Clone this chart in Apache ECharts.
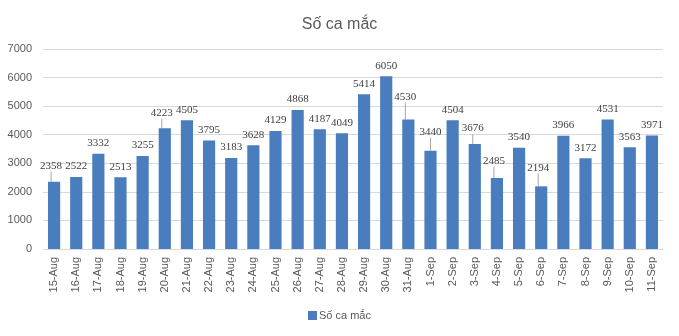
<!DOCTYPE html>
<html>
<head>
<meta charset="utf-8">
<script src="https://cdn.jsdelivr.net/npm/echarts@6/dist/echarts.min.js"></script>
<style>
  html, body { margin: 0; padding: 0; background: #fff; }
  #chart { width: 679px; height: 336px; }
</style>
</head>
<body>
<div id="chart"></div>
<script>
// Daily case counts, 15 Aug – 11 Sep
const categories = [
  '15-Aug', '16-Aug', '17-Aug', '18-Aug', '19-Aug', '20-Aug', '21-Aug',
  '22-Aug', '23-Aug', '24-Aug', '25-Aug', '26-Aug', '27-Aug', '28-Aug',
  '29-Aug', '30-Aug', '31-Aug', '1-Sep', '2-Sep', '3-Sep', '4-Sep',
  '5-Sep', '6-Sep', '7-Sep', '8-Sep', '9-Sep', '10-Sep', '11-Sep'
];
const cases = [
  2358, 2522, 3332, 2513, 3255, 4223, 4505,
  3795, 3183, 3628, 4129, 4868, 4187, 4049,
  5414, 6050, 4530, 3440, 4504, 3676, 2485,
  3540, 2194, 3966, 3172, 4531, 3563, 3971
];
const seriesName = 'Số ca mắc';
const yTicks = [0, 1000, 2000, 3000, 4000, 5000, 6000, 7000];

// Labels nudged upward (with a leader line) to keep them clear of neighbours
const raisedLabels = {
  '15-Aug': [-3, 5], '20-Aug': [-3, 5], '31-Aug': [-3, 12], '1-Sep': [0, 8],
  '3-Sep': [-2, 5], '4-Sep': [-3, 6], '6-Sep': [-3, 8]
};

const barData = cases.map((v, i) => ({
  value: v,
  labelLine: { show: !!raisedLabels[categories[i]] }
}));

const chart = echarts.init(document.getElementById('chart'), null, { renderer: 'canvas' });
const font = "'Liberation Sans', 'Open Sans', sans-serif";

chart.setOption({
  animation: false,
  backgroundColor: '#ffffff',
  title: {
    text: seriesName,
    left: 'center',
    top: 12,
    textStyle: { fontFamily: font, fontSize: 16, fontWeight: 'normal', color: '#595959' }
  },
  legend: {
    data: [seriesName],
    bottom: 10,
    left: 'center',
    itemWidth: 9,
    itemHeight: 9,
    itemGap: 4,
    icon: 'rect',
    textStyle: { fontFamily: font, fontSize: 11, color: '#595959', padding: [0, 0, 0, -3] }
  },
  grid: { left: 43, right: 16, top: 49, bottom: 87, containLabel: false },
  xAxis: {
    type: 'category',
    data: categories,
    axisTick: { show: false },
    axisLine: { lineStyle: { color: '#d9d9d9' } },
    axisLabel: {
      rotate: 90,
      interval: 0,
      margin: 8,
      fontFamily: font,
      fontSize: 11,
      color: '#595959'
    }
  },
  yAxis: {
    type: 'value',
    min: yTicks[0],
    max: yTicks[yTicks.length - 1],
    interval: 1000,
    axisLine: { show: false },
    axisTick: { show: false },
    splitLine: { lineStyle: { color: '#d9d9d9' } },
    axisLabel: {
      fontFamily: font, fontSize: 11, color: '#595959', margin: 11,
      formatter: v => String(v)
    }
  },
  series: [{
    name: seriesName,
    type: 'bar',
    data: barData,
    barWidth: '55%',
    itemStyle: { color: '#4a7dbd' },
    label: {
      show: true,
      position: 'top',
      distance: 5,
      fontFamily: "'Liberation Serif', serif",
      fontSize: 11,
      color: '#404040'
    },
    labelLine: {
      show: false,
      length2: 0,
      lineStyle: { color: '#a6a6a6', width: 1 }
    },
    labelLayout: params => {
      const nudge = raisedLabels[categories[params.dataIndex]];
      return nudge ? { dx: nudge[0], dy: -nudge[1] } : {};
    }
  }]
});
</script>
</body>
</html>
